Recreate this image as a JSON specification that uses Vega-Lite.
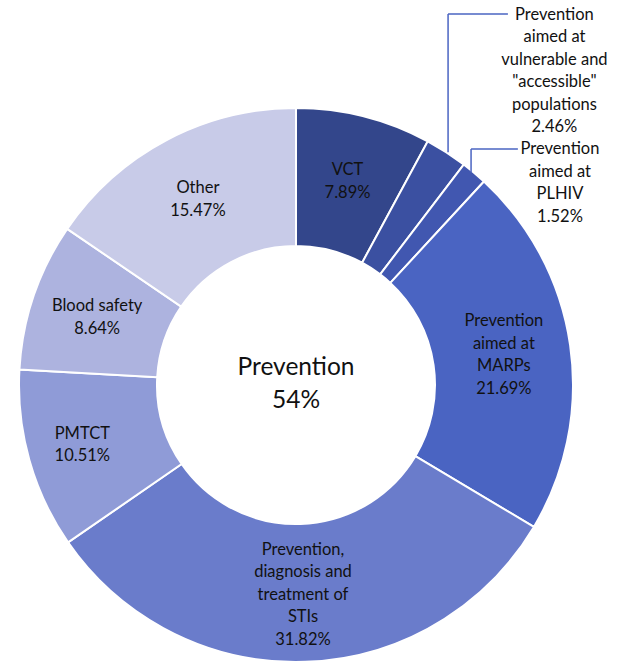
{
  "$schema": "https://vega.github.io/schema/vega-lite/v6.json",
  "width": 592,
  "height": 566,
  "autosize": {"type": "none"},
  "padding": {"left": 0, "top": 102, "right": 34, "bottom": 0},
  "background": "white",
  "config": {
    "view": {"stroke": null},
    "text": {"font": "Lato", "lineBreak": "\n"}
  },
  "data": {
    "values": [
      {"rank": 1, "name": "VCT", "caption": "VCT", "share": 7.89},
      {"rank": 2, "name": "Vulnerable", "caption": "Prevention\naimed at\nvulnerable and\n\"accessible\"\npopulations", "share": 2.46},
      {"rank": 3, "name": "PLHIV", "caption": "Prevention\naimed at\nPLHIV", "share": 1.52},
      {"rank": 4, "name": "MARPs", "caption": "Prevention\naimed at\nMARPs", "share": 21.69},
      {"rank": 5, "name": "STIs", "caption": "Prevention,\ndiagnosis and\ntreatment of\nSTIs", "share": 31.82},
      {"rank": 6, "name": "PMTCT", "caption": "PMTCT", "share": 10.51},
      {"rank": 7, "name": "Blood safety", "caption": "Blood safety", "share": 8.64},
      {"rank": 8, "name": "Other", "caption": "Other", "share": 15.47}
    ]
  },
  "transform": [
    {"calculate": "datum.caption + '\\n' + format(datum.share, '.2f') + '%'", "as": "label"}
  ],
  "layer": [
    {
      "mark": {"type": "arc", "radius": 277, "radius2": 139, "stroke": "white", "strokeWidth": 2},
      "encoding": {
        "theta": {"field": "share", "type": "quantitative", "stack": true},
        "order": {"field": "rank", "type": "quantitative"},
        "color": {
          "field": "name",
          "type": "nominal",
          "legend": null,
          "scale": {
            "domain": ["VCT", "Vulnerable", "PLHIV", "MARPs", "STIs", "PMTCT", "Blood safety", "Other"],
            "range": ["#33468b", "#3b50a1", "#4157b0", "#4a64c2", "#6a7ccb", "#8f9bd7", "#adb3df", "#c8cbe8"]
          }
        }
      }
    },
    {
      "mark": {"type": "text", "radius": 210, "dy": -11.25, "fontSize": 16.5, "lineHeight": 22.5, "fill": "#111111", "align": "center", "baseline": "middle"},
      "encoding": {
        "theta": {"field": "share", "type": "quantitative", "stack": true},
        "order": {"field": "rank", "type": "quantitative"},
        "detail": {"field": "name", "type": "nominal"},
        "text": {
          "condition": {"test": "indexof(['VCT','Blood safety','Other'], datum.name) >= 0", "field": "label"},
          "value": ""
        }
      }
    },
    {
      "mark": {"type": "text", "radius": 222, "dy": -11.25, "fontSize": 16.5, "lineHeight": 22.5, "fill": "#111111", "align": "center", "baseline": "middle"},
      "encoding": {
        "theta": {"field": "share", "type": "quantitative", "stack": true},
        "order": {"field": "rank", "type": "quantitative"},
        "detail": {"field": "name", "type": "nominal"},
        "text": {
          "condition": {"test": "datum.name === 'PMTCT'", "field": "label"},
          "value": ""
        }
      }
    },
    {
      "mark": {"type": "text", "radius": 210, "dy": -33.75, "fontSize": 16.5, "lineHeight": 22.5, "fill": "#111111", "align": "center", "baseline": "middle"},
      "encoding": {
        "theta": {"field": "share", "type": "quantitative", "stack": true},
        "order": {"field": "rank", "type": "quantitative"},
        "detail": {"field": "name", "type": "nominal"},
        "text": {
          "condition": {"test": "datum.name === 'MARPs'", "field": "label"},
          "value": ""
        }
      }
    },
    {
      "mark": {"type": "text", "radius": 210, "dy": -45, "fontSize": 16.5, "lineHeight": 22.5, "fill": "#111111", "align": "center", "baseline": "middle"},
      "encoding": {
        "theta": {"field": "share", "type": "quantitative", "stack": true},
        "order": {"field": "rank", "type": "quantitative"},
        "detail": {"field": "name", "type": "nominal"},
        "text": {
          "condition": {"test": "datum.name === 'STIs'", "field": "label"},
          "value": ""
        }
      }
    },
    {
      "transform": [{"filter": "datum.rank === 1"}],
      "mark": {"type": "text", "dy": -17, "fontSize": 24.5, "lineHeight": 33, "fill": "#111111", "align": "center", "baseline": "middle"},
      "encoding": {
        "x": {"datum": 0, "type": "quantitative", "scale": {"domain": [-1.0686, 1.0686], "nice": false, "zero": false}, "axis": null},
        "y": {"datum": 0, "type": "quantitative", "scale": {"domain": [-1.0217, 1.0217], "nice": false, "zero": false}, "axis": null},
        "text": {"value": ["Prevention", "54%"]}
      }
    },
    {
      "transform": [{"filter": "datum.name === 'Vulnerable'"}],
      "mark": {"type": "text", "fontSize": 16.5, "lineHeight": 22.5, "fill": "#111111", "align": "center", "baseline": "middle"},
      "encoding": {
        "x": {"datum": 0.933, "type": "quantitative", "scale": {"domain": [-1.0686, 1.0686], "nice": false, "zero": false}, "axis": null},
        "y": {"datum": 1.336, "type": "quantitative", "scale": {"domain": [-1.0217, 1.0217], "nice": false, "zero": false}, "axis": null},
        "text": {"field": "label"}
      }
    },
    {
      "transform": [{"filter": "datum.name === 'PLHIV'"}],
      "mark": {"type": "text", "fontSize": 16.5, "lineHeight": 22.5, "fill": "#111111", "align": "center", "baseline": "middle"},
      "encoding": {
        "x": {"datum": 0.953, "type": "quantitative", "scale": {"domain": [-1.0686, 1.0686], "nice": false, "zero": false}, "axis": null},
        "y": {"datum": 0.852, "type": "quantitative", "scale": {"domain": [-1.0217, 1.0217], "nice": false, "zero": false}, "axis": null},
        "text": {"field": "label"}
      }
    },
    {
      "transform": [{"filter": "datum.name === 'Vulnerable'"}],
      "mark": {"type": "rule", "color": "#4a64c2", "strokeWidth": 1.5},
      "encoding": {
        "x": {"datum": 0.549, "type": "quantitative", "scale": {"domain": [-1.0686, 1.0686], "nice": false, "zero": false}, "axis": null},
        "y": {"datum": 0.84, "type": "quantitative", "scale": {"domain": [-1.0217, 1.0217], "nice": false, "zero": false}, "axis": null},
        "y2": {"datum": 1.339}
      }
    },
    {
      "transform": [{"filter": "datum.name === 'Vulnerable'"}],
      "mark": {"type": "rule", "color": "#4a64c2", "strokeWidth": 1.5},
      "encoding": {
        "x": {"datum": 0.549, "type": "quantitative", "scale": {"domain": [-1.0686, 1.0686], "nice": false, "zero": false}, "axis": null},
        "x2": {"datum": 0.765},
        "y": {"datum": 1.339, "type": "quantitative", "scale": {"domain": [-1.0217, 1.0217], "nice": false, "zero": false}, "axis": null}
      }
    },
    {
      "transform": [{"filter": "datum.name === 'PLHIV'"}],
      "mark": {"type": "rule", "color": "#4a64c2", "strokeWidth": 1.5},
      "encoding": {
        "x": {"datum": 0.632, "type": "quantitative", "scale": {"domain": [-1.0686, 1.0686], "nice": false, "zero": false}, "axis": null},
        "y": {"datum": 0.768, "type": "quantitative", "scale": {"domain": [-1.0217, 1.0217], "nice": false, "zero": false}, "axis": null},
        "y2": {"datum": 0.852}
      }
    },
    {
      "transform": [{"filter": "datum.name === 'PLHIV'"}],
      "mark": {"type": "rule", "color": "#4a64c2", "strokeWidth": 1.5},
      "encoding": {
        "x": {"datum": 0.632, "type": "quantitative", "scale": {"domain": [-1.0686, 1.0686], "nice": false, "zero": false}, "axis": null},
        "x2": {"datum": 0.801},
        "y": {"datum": 0.852, "type": "quantitative", "scale": {"domain": [-1.0217, 1.0217], "nice": false, "zero": false}, "axis": null}
      }
    }
  ]
}
